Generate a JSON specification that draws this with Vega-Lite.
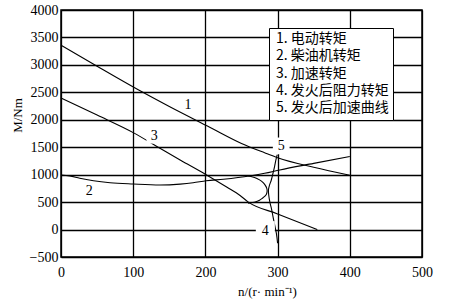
{
  "$schema": "https://vega.github.io/schema/vega-lite/v6.json",
  "width": 361,
  "height": 247,
  "autosize": {"type": "none"},
  "padding": {"left": 61, "top": 10, "right": 27, "bottom": 49},
  "background": "white",
  "config": {
    "view": {"stroke": "black", "strokeWidth": 1.5},
    "font": "Liberation Serif",
    "axis": {
      "labelOverlap": false,
      "labelFlush": false,
      "labelFont": "Liberation Serif",
      "labelFontSize": 14,
      "labelColor": "black",
      "format": "d",
      "ticks": false,
      "domain": false,
      "grid": true,
      "gridColor": "black",
      "gridWidth": 1.3,
      "gridOpacity": 1,
      "titleFont": "Liberation Serif",
      "titleFontSize": 13,
      "titleFontWeight": "normal",
      "titleColor": "black"
    },
    "axisX": {"labelPadding": 8},
    "axisY": {"labelPadding": 3},
    "legend": {
      "fillColor": "white",
      "strokeColor": "black",
      "padding": 4,
      "labelFont": "Noto Sans CJK SC",
      "labelFontSize": 14,
      "labelColor": "black",
      "symbolSize": 0,
      "symbolStrokeWidth": 0,
      "symbolOpacity": 0,
      "labelOffset": -11,
      "rowPadding": 3.3,
      "symbolType": "stroke"
    }
  },
  "datasets": {
    "main": [
      {"s": "1", "k": "1. 电动转矩", "i": 0, "n": 0, "M": 3360},
      {"s": "1", "k": "1. 电动转矩", "i": 1, "n": 50, "M": 2975},
      {"s": "1", "k": "1. 电动转矩", "i": 2, "n": 107, "M": 2546},
      {"s": "1", "k": "1. 电动转矩", "i": 3, "n": 150, "M": 2242},
      {"s": "1", "k": "1. 电动转矩", "i": 4, "n": 206, "M": 1865},
      {"s": "1", "k": "1. 电动转矩", "i": 5, "n": 250, "M": 1570},
      {"s": "1", "k": "1. 电动转矩", "i": 6, "n": 282, "M": 1400},
      {"s": "1", "k": "1. 电动转矩", "i": 7, "n": 300, "M": 1310},
      {"s": "1", "k": "1. 电动转矩", "i": 8, "n": 350, "M": 1135},
      {"s": "1", "k": "1. 电动转矩", "i": 9, "n": 400, "M": 990},
      {"s": "2", "k": "2. 柴油机转矩", "i": 0, "n": 0, "M": 995},
      {"s": "2", "k": "2. 柴油机转矩", "i": 1, "n": 12, "M": 978},
      {"s": "2", "k": "2. 柴油机转矩", "i": 2, "n": 26, "M": 935},
      {"s": "2", "k": "2. 柴油机转矩", "i": 3, "n": 45, "M": 890},
      {"s": "2", "k": "2. 柴油机转矩", "i": 4, "n": 68, "M": 854},
      {"s": "2", "k": "2. 柴油机转矩", "i": 5, "n": 100, "M": 830},
      {"s": "2", "k": "2. 柴油机转矩", "i": 6, "n": 137, "M": 812},
      {"s": "2", "k": "2. 柴油机转矩", "i": 7, "n": 165, "M": 828},
      {"s": "2", "k": "2. 柴油机转矩", "i": 8, "n": 183, "M": 852},
      {"s": "2", "k": "2. 柴油机转矩", "i": 9, "n": 201, "M": 888},
      {"s": "2", "k": "2. 柴油机转矩", "i": 10, "n": 225, "M": 916},
      {"s": "2", "k": "2. 柴油机转矩", "i": 11, "n": 261, "M": 975},
      {"s": "2", "k": "2. 柴油机转矩", "i": 12, "n": 282, "M": 1025},
      {"s": "2", "k": "2. 柴油机转矩", "i": 13, "n": 303, "M": 1086},
      {"s": "2", "k": "2. 柴油机转矩", "i": 14, "n": 350, "M": 1205},
      {"s": "2", "k": "2. 柴油机转矩", "i": 15, "n": 400, "M": 1330},
      {"s": "3", "k": "3. 加速转矩", "i": 0, "n": 0, "M": 2395},
      {"s": "3", "k": "3. 加速转矩", "i": 1, "n": 50, "M": 2085},
      {"s": "3", "k": "3. 加速转矩", "i": 2, "n": 100, "M": 1766},
      {"s": "3", "k": "3. 加速转矩", "i": 3, "n": 137, "M": 1482},
      {"s": "3", "k": "3. 加速转矩", "i": 4, "n": 165, "M": 1268},
      {"s": "3", "k": "3. 加速转矩", "i": 5, "n": 201, "M": 1000},
      {"s": "3", "k": "3. 加速转矩", "i": 6, "n": 230, "M": 770},
      {"s": "3", "k": "3. 加速转矩", "i": 7, "n": 248, "M": 620},
      {"s": "3", "k": "3. 加速转矩", "i": 8, "n": 259, "M": 505},
      {"s": "3", "k": "3. 加速转矩", "i": 9, "n": 300, "M": 285},
      {"s": "3", "k": "3. 加速转矩", "i": 10, "n": 355, "M": 0}
    ],
    "ignition": [
      {"s": "4", "k": "4. 发火后阻力转矩", "i": 0, "n": 299.5, "M": 1365},
      {"s": "4", "k": "4. 发火后阻力转矩", "i": 1, "n": 297.5, "M": 1260},
      {"s": "4", "k": "4. 发火后阻力转矩", "i": 2, "n": 295.8, "M": 1146},
      {"s": "4", "k": "4. 发火后阻力转矩", "i": 3, "n": 293.5, "M": 1020},
      {"s": "4", "k": "4. 发火后阻力转矩", "i": 4, "n": 291.3, "M": 903},
      {"s": "4", "k": "4. 发火后阻力转矩", "i": 5, "n": 288.8, "M": 810},
      {"s": "4", "k": "4. 发火后阻力转矩", "i": 6, "n": 287.3, "M": 720},
      {"s": "4", "k": "4. 发火后阻力转矩", "i": 7, "n": 287.7, "M": 630},
      {"s": "4", "k": "4. 发火后阻力转矩", "i": 8, "n": 289.3, "M": 500},
      {"s": "4", "k": "4. 发火后阻力转矩", "i": 9, "n": 291.4, "M": 387},
      {"s": "4", "k": "4. 发火后阻力转矩", "i": 10, "n": 293.2, "M": 265},
      {"s": "4", "k": "4. 发火后阻力转矩", "i": 11, "n": 295, "M": 143},
      {"s": "4", "k": "4. 发火后阻力转矩", "i": 12, "n": 298.3, "M": -70},
      {"s": "4", "k": "4. 发火后阻力转矩", "i": 13, "n": 300, "M": -250},
      {"s": "5", "k": "5. 发火后加速曲线", "i": 0, "n": 259, "M": 980},
      {"s": "5", "k": "5. 发火后加速曲线", "i": 1, "n": 268, "M": 950},
      {"s": "5", "k": "5. 发火后加速曲线", "i": 2, "n": 275, "M": 905},
      {"s": "5", "k": "5. 发火后加速曲线", "i": 3, "n": 280, "M": 855},
      {"s": "5", "k": "5. 发火后加速曲线", "i": 4, "n": 283, "M": 805},
      {"s": "5", "k": "5. 发火后加速曲线", "i": 5, "n": 285, "M": 750},
      {"s": "5", "k": "5. 发火后加速曲线", "i": 6, "n": 285.5, "M": 700},
      {"s": "5", "k": "5. 发火后加速曲线", "i": 7, "n": 284.5, "M": 645},
      {"s": "5", "k": "5. 发火后加速曲线", "i": 8, "n": 282, "M": 603},
      {"s": "5", "k": "5. 发火后加速曲线", "i": 9, "n": 279, "M": 570},
      {"s": "5", "k": "5. 发火后加速曲线", "i": 10, "n": 275, "M": 535},
      {"s": "5", "k": "5. 发火后加速曲线", "i": 11, "n": 270, "M": 508},
      {"s": "5", "k": "5. 发火后加速曲线", "i": 12, "n": 265, "M": 492},
      {"s": "5", "k": "5. 发火后加速曲线", "i": 13, "n": 259, "M": 480}
    ],
    "labels": [
      {"t": "1", "n": 176, "M": 2272, "bg": 0},
      {"t": "2", "n": 39, "M": 703, "bg": 0},
      {"t": "3", "n": 129, "M": 1706, "bg": 144},
      {"t": "4", "n": 283, "M": -20, "bg": 220},
      {"t": "5", "n": 305, "M": 1524, "bg": 170}
    ]
  },
  "layer": [
    {
      "data": {"name": "main"},
      "mark": {"type": "line", "interpolate": "monotone", "strokeWidth": 1.1},
      "encoding": {
        "x": {
          "field": "n", "type": "quantitative",
          "scale": {"domain": [0, 500], "nice": false, "zero": false},
          "axis": {
            "values": [0, 100, 200, 300, 400, 500],
            "tickCount": 20,
            "title": "n/(r· min⁻¹)",
            "titleX": 206, "titleY": 34, "titleBaseline": "middle", "titleAlign": "center", "titleAnchor": null,
            "labelOverlap": false
          }
        },
        "y": {
          "field": "M", "type": "quantitative",
          "scale": {"domain": [-500, 4000], "nice": false, "zero": false},
          "axis": {
            "values": [-500, 0, 500, 1000, 1500, 2000, 2500, 3000, 3500, 4000],
            "tickCount": 20,
            "title": "M/Nm",
            "titleX": -44, "titleY": 105, "titleBaseline": "middle", "titleAlign": "center", "titleAnchor": null,
            "labelOverlap": false
          }
        },
        "color": {
          "field": "k", "type": "nominal",
          "scale": {
            "domain": ["1. 电动转矩", "2. 柴油机转矩", "3. 加速转矩", "4. 发火后阻力转矩", "5. 发火后加速曲线"],
            "range": ["black", "black", "black", "black", "black"]
          },
          "legend": {"orient": "none", "legendX": 208, "legendY": 18, "title": null}
        },
        "detail": {"field": "s"},
        "order": {"field": "i", "type": "quantitative"}
      }
    },
    {
      "data": {"name": "ignition"},
      "mark": {"type": "line", "interpolate": "cardinal", "strokeWidth": 1.1},
      "encoding": {
        "x": {"field": "n", "type": "quantitative"},
        "y": {"field": "M", "type": "quantitative"},
        "color": {"field": "k", "type": "nominal", "legend": {"orient": "none", "legendX": 208, "legendY": 18, "title": null}},
        "detail": {"field": "s"},
        "order": {"field": "i", "type": "quantitative"}
      }
    },
    {
      "data": {"name": "labels"},
      "mark": {"type": "point", "shape": "square", "filled": true, "color": "white", "opacity": 1, "strokeWidth": 0},
      "encoding": {
        "x": {"field": "n", "type": "quantitative"},
        "y": {"field": "M", "type": "quantitative"},
        "size": {"field": "bg", "type": "quantitative", "scale": {"type": "identity"}, "legend": null}
      }
    },
    {
      "data": {"name": "labels"},
      "mark": {"type": "text", "font": "Liberation Serif", "fontSize": 14, "color": "black", "baseline": "middle", "align": "center"},
      "encoding": {
        "x": {"field": "n", "type": "quantitative"},
        "y": {"field": "M", "type": "quantitative"},
        "text": {"field": "t"}
      }
    }
  ]
}
